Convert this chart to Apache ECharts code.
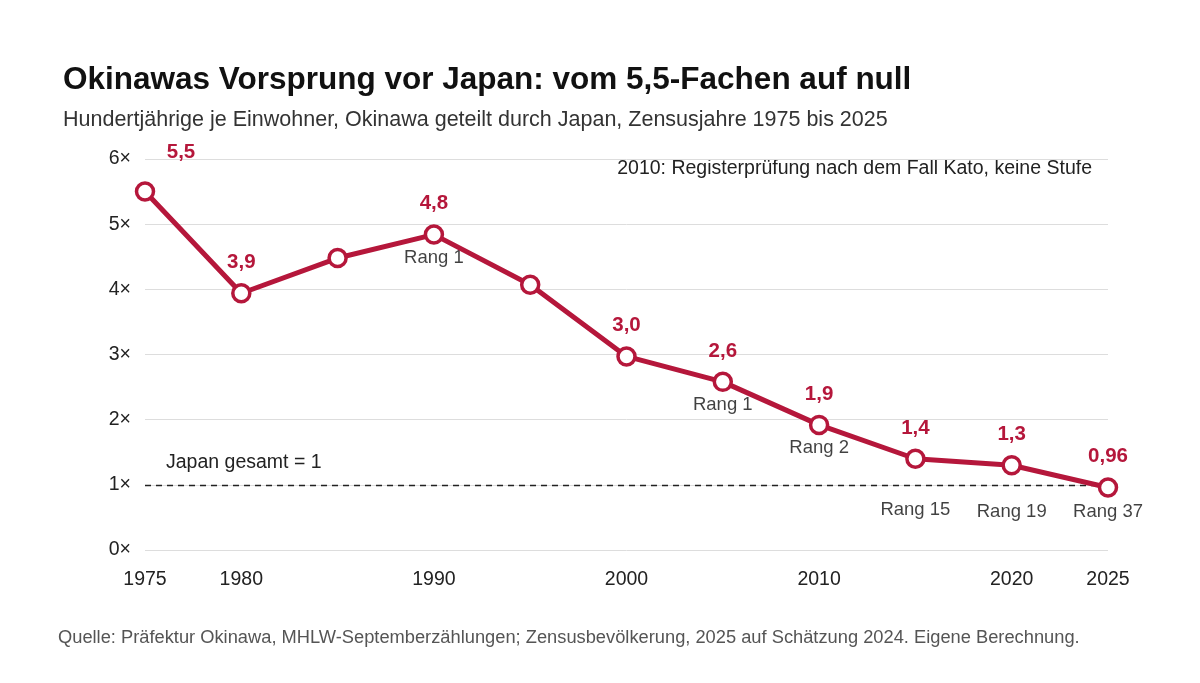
<!DOCTYPE html>
<html><head><meta charset="utf-8">
<script src="https://cdn.jsdelivr.net/npm/echarts@6/dist/echarts.min.js"></script>
<style>html,body{margin:0;background:#fff}#c{width:1200px;height:683px}</style>
</head><body><div id="c"></div>
<script>
var years = [1975, 1980, 1985, 1990, 1995, 2000, 2005, 2010, 2015, 2020, 2025];
var ratio = [5.5, 3.94, 4.48, 4.84, 4.07, 2.97, 2.58, 1.92, 1.4, 1.3, 0.96];
var valueLabels = ['5,5', '3,9', '', '4,8', '', '3,0', '2,6', '1,9', '1,4', '1,3', '0,96'];
var rankLabels = ['', '', '', 'Rang 1', '', '', 'Rang 1', 'Rang 2', 'Rang 15', 'Rang 19', 'Rang 37'];
var yearTicks = [1975, 1980, 1990, 2000, 2010, 2020, 2025];
var red = '#b5173b';
var font = 'Liberation Sans, Helvetica, Arial, sans-serif';

var chart = echarts.init(document.getElementById('c'));
var pts = years.map(function (y, i) { return [y, ratio[i]]; });
// rank labels for the last points sit below the dashed reference line
var rankDist = [14, 14, 14, 14, 14, 14, 14, 14, 42, 37, 15];
var rankPts = pts.map(function (p, i) { return { value: p, label: { distance: rankDist[i] } }; });
chart.setOption({
  textStyle: { fontFamily: font },
  grid: { left: 145, right: 92, top: 159, bottom: 133 },
  title: {
    text: 'Okinawas Vorsprung vor Japan: vom 5,5-Fachen auf null',
    subtext: 'Hundertjährige je Einwohner, Okinawa geteilt durch Japan, Zensusjahre 1975 bis 2025',
    left: 58, top: 59, itemGap: 13,
    textStyle: { fontSize: 31.5, fontWeight: 'bold', color: '#111', fontFamily: font },
    subtextStyle: { fontSize: 21.5, color: '#333', fontFamily: font }
  },
  graphic: [
    { type: 'text', right: 108, top: 159, style: { text: '2010: Registerprüfung nach dem Fall Kato, keine Stufe', fontSize: 19.5, fill: '#222', fontFamily: font } },
    { type: 'text', left: 166, top: 453, style: { text: 'Japan gesamt = 1', fontSize: 19.5, fill: '#222', fontFamily: font } },
    { type: 'text', left: 58, top: 629, style: { text: 'Quelle: Präfektur Okinawa, MHLW-Septemberzählungen; Zensusbevölkerung, 2025 auf Schätzung 2024. Eigene Berechnung.', fontSize: 18.3, fill: '#555', fontFamily: font } }
  ],
  xAxis: {
    type: 'value', min: 1975, max: 2025, interval: 5,
    axisLine: { show: false }, axisTick: { show: false }, splitLine: { show: false },
    axisLabel: {
      fontSize: 19.5, color: '#222', margin: 20,
      formatter: function (v) { return yearTicks.indexOf(v) >= 0 ? String(v) : ''; }
    }
  },
  yAxis: {
    type: 'value', min: 0, max: 6, interval: 1,
    axisLine: { show: false }, axisTick: { show: false },
    splitLine: { lineStyle: { color: '#ddd' } },
    axisLabel: { fontSize: 19.5, color: '#222', margin: 14, formatter: function (v) { return v + '×'; } }
  },
  series: [{
    type: 'line', data: pts, symbol: 'circle', symbolSize: 17,
    lineStyle: { color: red, width: 5 },
    itemStyle: { color: '#fff', borderColor: red, borderWidth: 3.5 },
    z: 5,
    label: {
      show: true, position: 'top', distance: 10, fontSize: 20.5, fontWeight: 'bold', color: red,
      formatter: function (p) { return valueLabels[p.dataIndex]; }
    },
    labelLayout: function (p) {
      if (p.dataIndex === 0) return { dx: 36, dy: -8 };
      return {};
    },
    markLine: {
      silent: true, symbol: 'none', label: { show: false },
      lineStyle: { color: '#222', type: [6, 5], width: 1.3 },
      data: [{ yAxis: 1 }]
    }
  }, {
    type: 'scatter', data: rankPts, symbolSize: 0, silent: true,
    label: {
      show: true, position: 'bottom', fontSize: 18.5, color: '#111',
      formatter: function (p) { return rankLabels[p.dataIndex]; }
    }
  }]
});
</script></body></html>
